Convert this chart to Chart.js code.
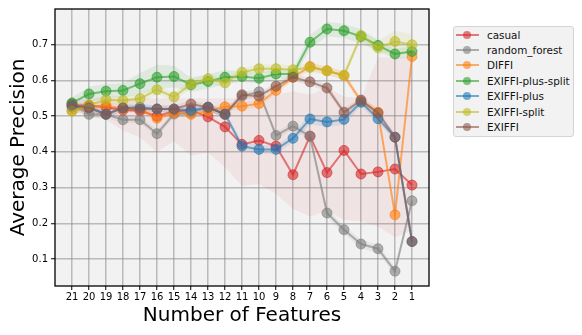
<!DOCTYPE html>
<html>
<head>
<meta charset="utf-8">
<script src="https://cdn.jsdelivr.net/npm/chart.js@4.4.1/dist/chart.umd.min.js"></script>
<style>
  body { margin: 0; background: #fff; }
  #wrap { position: relative; width: 582px; height: 335px; }
  #legend {
    position: absolute; left: 453px; top: 26px; width: 121px; height: 111px;
    box-sizing: border-box; background: #f2f2f2; border: 1px solid #d4d4d4; border-radius: 3px;
    font: 10.4px "DejaVu Sans", sans-serif; color: #111;
  }
  .item { height: 15.4px; display: flex; align-items: center; white-space: nowrap; }
  .sym { position: relative; width: 23px; height: 10px; margin-left: 2px; margin-right: 8px; flex: none; }
  .sym .ln { position: absolute; left: 0; right: 0; top: 4px; height: 2px; }
  .sym .dot { position: absolute; left: 7px; top: 1px; width: 8px; height: 8px; border-radius: 50%; }
</style>
</head>
<body>
<div id="wrap">
  <canvas id="chart" width="582" height="335"></canvas>
  <div id="legend"></div>
</div>
<script>
const features = [21, 20, 19, 18, 17, 16, 15, 14, 13, 12, 11, 10, 9, 8, 7, 6, 5, 4, 3, 2, 1];
const yTicks = [0.1, 0.2, 0.3, 0.4, 0.5, 0.6, 0.7];

const names = ["casual", "random_forest", "DIFFI", "EXIFFI-plus-split", "EXIFFI-plus", "EXIFFI-split", "EXIFFI"];
const colors = ["214,39,40", "127,127,127", "255,127,14", "44,160,44", "31,119,180", "188,189,34", "140,86,75"];

const casual = [0.53, 0.53, 0.525, 0.517, 0.515, 0.50, 0.514, 0.516, 0.498, 0.47, 0.421, 0.432, 0.416, 0.336, 0.444, 0.342, 0.404, 0.338, 0.344, 0.352, 0.307];
const randomForest = [0.535, 0.505, 0.505, 0.49, 0.49, 0.451, 0.506, 0.51, 0.525, 0.505, 0.556, 0.568, 0.446, 0.472, 0.444, 0.229, 0.182, 0.142, 0.129, 0.066, 0.263];
const diffi = [0.515, 0.525, 0.53, 0.52, 0.52, 0.494, 0.509, 0.505, 0.514, 0.526, 0.528, 0.535, 0.572, 0.609, 0.639, 0.627, 0.614, 0.542, 0.511, 0.224, 0.667];
const plusSplit = [0.537, 0.562, 0.57, 0.572, 0.591, 0.609, 0.611, 0.588, 0.597, 0.609, 0.611, 0.606, 0.618, 0.618, 0.707, 0.744, 0.739, 0.723, 0.698, 0.674, 0.681];
const plus = [0.525, 0.525, 0.506, 0.523, 0.525, 0.52, 0.52, 0.516, 0.525, 0.506, 0.416, 0.407, 0.407, 0.438, 0.492, 0.484, 0.491, 0.539, 0.493, 0.441, 0.149];
const split = [0.514, 0.531, 0.546, 0.544, 0.549, 0.574, 0.554, 0.59, 0.605, 0.593, 0.623, 0.633, 0.633, 0.63, 0.636, 0.627, 0.614, 0.726, 0.692, 0.709, 0.70];
const exiffi = [0.531, 0.523, 0.505, 0.523, 0.52, 0.52, 0.52, 0.534, 0.525, 0.505, 0.56, 0.556, 0.584, 0.609, 0.596, 0.579, 0.511, 0.545, 0.509, 0.441, 0.149];

// shaded bands
const casualUpper = [0.545, 0.55, 0.55, 0.55, 0.55, 0.55, 0.55, 0.55, 0.55, 0.55, 0.55, 0.555, 0.56, 0.57, 0.56, 0.58, 0.555, 0.55, 0.665, 0.665, 0.665];
const casualLower = [0.515, 0.50, 0.49, 0.46, 0.44, 0.40, 0.43, 0.39, 0.398, 0.357, 0.305, 0.31, 0.283, 0.24, 0.219, 0.235, 0.21, 0.206, 0.191, 0.161, 0.18];
const rfStd = [0.01, 0.01, 0.01, 0.01, 0.01, 0.01, 0.01, 0.01, 0.01, 0.01, 0.01, 0.01, 0.01, 0.01, 0.01, 0.012, 0.012, 0.012, 0.012, 0.01, 0.01];
const diffiStd = [0.01, 0.01, 0.01, 0.01, 0.01, 0.01, 0.01, 0.01, 0.01, 0.01, 0.01, 0.01, 0.01, 0.01, 0.012, 0.012, 0.012, 0.01, 0.01, 0.01, 0.01];
const plusSplitStd = [0.015, 0.02, 0.02, 0.02, 0.03, 0.035, 0.03, 0.02, 0.02, 0.02, 0.015, 0.015, 0.015, 0.015, 0.02, 0.02, 0.02, 0.02, 0.015, 0.015, 0.015];
const plusStd = [0.01, 0.01, 0.01, 0.01, 0.01, 0.01, 0.01, 0.01, 0.01, 0.01, 0.012, 0.012, 0.012, 0.012, 0.015, 0.015, 0.015, 0.012, 0.012, 0.01, 0.01];
const splitStd = [0.01, 0.01, 0.012, 0.012, 0.012, 0.012, 0.012, 0.012, 0.012, 0.012, 0.012, 0.012, 0.012, 0.012, 0.012, 0.012, 0.012, 0.012, 0.02, 0.03, 0.03];
const exiffiStd = [0.01, 0.01, 0.01, 0.01, 0.01, 0.01, 0.01, 0.01, 0.01, 0.01, 0.01, 0.01, 0.01, 0.01, 0.01, 0.01, 0.01, 0.01, 0.01, 0.01, 0.01];

const series = [casual, randomForest, diffi, plusSplit, plus, split, exiffi];
const stds = [null, rfStd, diffiStd, plusSplitStd, plusStd, splitStd, exiffiStd];

function pts(arr) {
  return features.map((f, i) => ({ x: f, y: arr[i] }));
}

const datasets = [];
series.forEach((vals, s) => {
  const up = s === 0 ? casualUpper : vals.map((v, i) => v + stds[s][i]);
  const lo = s === 0 ? casualLower : vals.map((v, i) => v - stds[s][i]);
  const bandAlpha = s === 0 ? 0.07 : 0.1;
  datasets.push({
    data: pts(up), fill: "+1", borderWidth: 0, pointRadius: 0,
    backgroundColor: "rgba(" + colors[s] + "," + bandAlpha + ")", order: 20
  });
  datasets.push({ data: pts(lo), fill: false, borderWidth: 0, pointRadius: 0, order: 20 });
});
series.forEach((vals, s) => {
  datasets.push({
    label: names[s],
    data: pts(vals),
    borderColor: "rgba(" + colors[s] + ",0.6)",
    backgroundColor: "rgba(" + colors[s] + ",0.6)",
    pointBackgroundColor: "rgba(" + colors[s] + ",0.6)",
    pointBorderColor: "rgba(" + colors[s] + ",0.6)",
    borderWidth: 2, pointRadius: 5, pointBorderWidth: 1,
    fill: false, tension: 0,
    order: 10 - s
  });
});

const frame = {
  id: "frame",
  beforeDraw(chart) {
    const a = chart.chartArea, c = chart.ctx;
    c.save();
    c.fillStyle = "#f2f2f2";
    c.fillRect(a.left, a.top, a.right - a.left, a.bottom - a.top);
    c.restore();
  },
  afterDraw(chart) {
    const a = chart.chartArea, c = chart.ctx;
    c.save();
    c.strokeStyle = "#000";
    c.lineWidth = 1.3;
    c.strokeRect(a.left, a.top, a.right - a.left, a.bottom - a.top);
    c.restore();
  }
};

const gridColor = "rgba(140,140,140,0.55)";

new Chart(document.getElementById("chart"), {
  type: "line",
  data: { datasets: datasets },
  options: {
    responsive: false,
    animation: false,
    devicePixelRatio: 1,
    layout: { padding: { top: 7, right: 153, left: 0, bottom: 0 } },
    plugins: {
      legend: { display: false },
      tooltip: { enabled: false },
      filler: { drawTime: "beforeDatasetsDraw" }
    },
    scales: {
      x: {
        type: "linear", reverse: true, min: 0, max: 22,
        afterBuildTicks: s => { s.ticks = features.map(v => ({ value: v })); },
        afterFit: s => { s.height = 49; },
        ticks: { color: "#000", font: { family: "DejaVu Sans", size: 10 }, padding: 1, maxRotation: 0, autoSkip: false },
        grid: { color: gridColor, lineWidth: 1.5, tickColor: "#000", tickLength: 4, tickWidth: 1 },
        border: { display: false },
        title: {
          display: true, text: "Number of Features", color: "#000",
          font: { family: "DejaVu Sans", size: 20 }, padding: { top: 0, bottom: 7 }
        }
      },
      y: {
        min: 0.0245, max: 0.8,
        afterBuildTicks: s => { s.ticks = yTicks.map(v => ({ value: v })); },
        afterFit: s => { s.width = 55; },
        ticks: { color: "#000", font: { family: "DejaVu Sans", size: 10 }, padding: 3, callback: v => v.toFixed(1) },
        grid: { color: gridColor, lineWidth: 1.5, tickColor: "#000", tickLength: 4, tickWidth: 1 },
        border: { display: false },
        title: {
          display: true, text: "Average Precision", color: "#000",
          font: { family: "DejaVu Sans", size: 20 }, padding: { top: 7, bottom: 0 }
        }
      }
    }
  },
  plugins: [frame]
});

// legend
const legend = document.getElementById("legend");
names.forEach((n, s) => {
  const c = "rgba(" + colors[s] + ",0.6)";
  const item = document.createElement("div");
  item.className = "item";
  item.innerHTML = '<span class="sym"><span class="ln" style="background:' + c + '"></span>' +
    '<span class="dot" style="background:' + c + '"></span></span><span>' + n + '</span>';
  legend.appendChild(item);
});
</script>
</body>
</html>
